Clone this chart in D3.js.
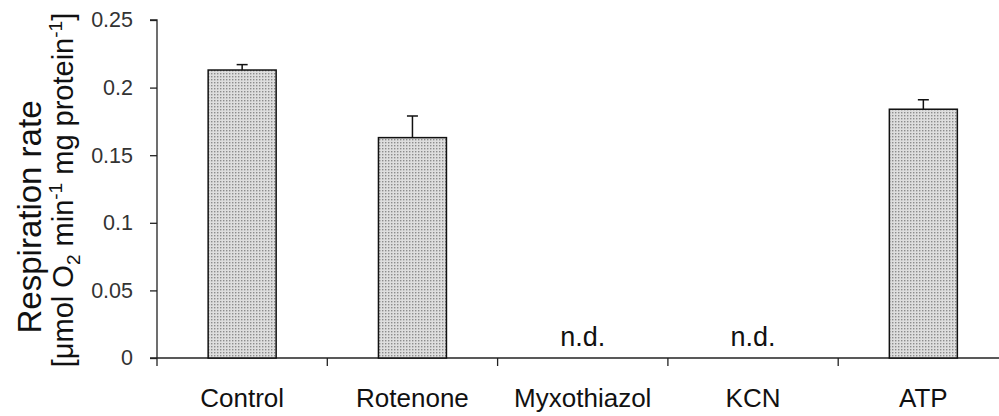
<!DOCTYPE html>
<html>
<head>
<meta charset="utf-8">
<script src="https://cdn.jsdelivr.net/npm/d3@7/dist/d3.min.js"></script>
<style>
  html, body { margin: 0; padding: 0; background: #fff; }
  svg { display: block; }
  text { font-family: "Liberation Sans", Arial, sans-serif; }
</style>
</head>
<body>
<svg id="chart" width="999" height="416"></svg>
<script>
// Respiration rate per treatment (μmol O2 min^-1 mg protein^-1)
const categories = ["Control", "Rotenone", "Myxothiazol", "KCN", "ATP"];
const rates      = [0.213, 0.163, null, null, 0.184];   // null = not detected
const errors     = [0.004, 0.016, null, null, 0.007];
const yTicks     = [0, 0.05, 0.1, 0.15, 0.2, 0.25];
const ndLabel    = "n.d.";

const svg = d3.select("#chart");
const margin = { left: 157, top: 20, bottom: 58 };
const W = 999, H = 416;
const plotRight = 157 + 5 * 170.3;

const x = d3.scaleBand().domain(categories).range([margin.left, plotRight]).paddingInner(0).paddingOuter(0);
const y = d3.scaleLinear().domain([0, 0.25]).range([H - margin.bottom, margin.top]);

// stippled fill for the bars
const defs = svg.append("defs");
const pat = defs.append("pattern").attr("id", "stipple")
  .attr("patternUnits", "userSpaceOnUse").attr("width", 3).attr("height", 3);
pat.append("rect").attr("width", 3).attr("height", 3).attr("fill", "#dedede");
pat.append("rect").attr("x", 1).attr("y", 1).attr("width", 1.4).attr("height", 1.4).attr("fill", "#8c8c8c");

// y axis
const yAxis = d3.axisLeft(y).tickValues(yTicks).tickSize(7).tickPadding(17)
  .tickFormat(d => d === 0 ? "0" : String(+d.toFixed(2)));
const gy = svg.append("g").attr("transform", `translate(${margin.left},0)`).call(yAxis);
gy.select(".domain").attr("stroke", "#222").attr("stroke-width", 1.3).attr("d", `M-7,${y(0.25)}H0V${y(0)}`);
gy.selectAll(".tick line").attr("stroke", "#222").attr("stroke-width", 1.3);
gy.selectAll(".tick text").attr("font-size", 21.5).attr("fill", "#333");

// x axis (ticks on category boundaries)
const xAxisY = y(0);
const bounds = categories.map(c => x(c)).concat([x(categories[categories.length - 1]) + x.bandwidth()]);
const gx = svg.append("g");
gx.append("line").attr("x1", margin.left - 7).attr("x2", W).attr("y1", xAxisY).attr("y2", xAxisY)
  .attr("stroke", "#222").attr("stroke-width", 1.3);
gx.selectAll("line.tk").data(bounds).join("line").attr("class", "tk")
  .attr("x1", d => d).attr("x2", d => d).attr("y1", xAxisY).attr("y2", xAxisY + 8)
  .attr("stroke", "#222").attr("stroke-width", 1.3);
gx.selectAll("text").data(categories).join("text")
  .attr("x", d => x(d) + x.bandwidth() / 2).attr("y", xAxisY + 49)
  .attr("text-anchor", "middle").attr("font-size", 26).attr("fill", "#111")
  .text(d => d);

// bars
const barW = 68;
const data = categories.map((c, i) => ({ c, v: rates[i], e: errors[i] }));
const bars = svg.append("g");
bars.selectAll("rect").data(data.filter(d => d.v != null)).join("rect")
  .attr("x", d => x(d.c) + (x.bandwidth() - barW) / 2)
  .attr("y", d => y(d.v))
  .attr("width", barW)
  .attr("height", d => y(0) - y(d.v))
  .attr("fill", "url(#stipple)")
  .attr("stroke", "#111").attr("stroke-width", 1.5);

// error bars (upper only)
const eb = svg.append("g").attr("stroke", "#111").attr("stroke-width", 1.5);
data.filter(d => d.v != null).forEach(d => {
  const cx = x(d.c) + x.bandwidth() / 2;
  eb.append("line").attr("x1", cx).attr("x2", cx).attr("y1", y(d.v)).attr("y2", y(d.v + d.e));
  eb.append("line").attr("x1", cx - 5.5).attr("x2", cx + 5.5).attr("y1", y(d.v + d.e)).attr("y2", y(d.v + d.e));
});

// not-detected labels
svg.append("g").selectAll("text").data(data.filter(d => d.v == null)).join("text")
  .attr("x", d => x(d.c) + x.bandwidth() / 2).attr("y", xAxisY - 12)
  .attr("text-anchor", "middle").attr("font-size", 27).attr("fill", "#111")
  .text(ndLabel);

// y axis title (two rotated lines)
svg.append("text").attr("transform", `translate(41,217) rotate(-90)`)
  .attr("text-anchor", "middle").attr("font-size", 33).attr("fill", "#111")
  .text("Respiration rate");
const l2 = svg.append("text").attr("transform", `translate(73,190) rotate(-90)`)
  .attr("text-anchor", "middle").attr("font-size", 29).attr("fill", "#111");
l2.append("tspan").text("[μmol O");
l2.append("tspan").attr("font-size", 19).attr("dy", 7).text("2");
l2.append("tspan").attr("dy", -7).text(" min");
l2.append("tspan").attr("font-size", 19).attr("dy", -11).text("-1");
l2.append("tspan").attr("dy", 11).text(" mg protein");
l2.append("tspan").attr("font-size", 19).attr("dy", -11).text("-1");
l2.append("tspan").attr("dy", 11).text("]");
</script>
</body>
</html>
